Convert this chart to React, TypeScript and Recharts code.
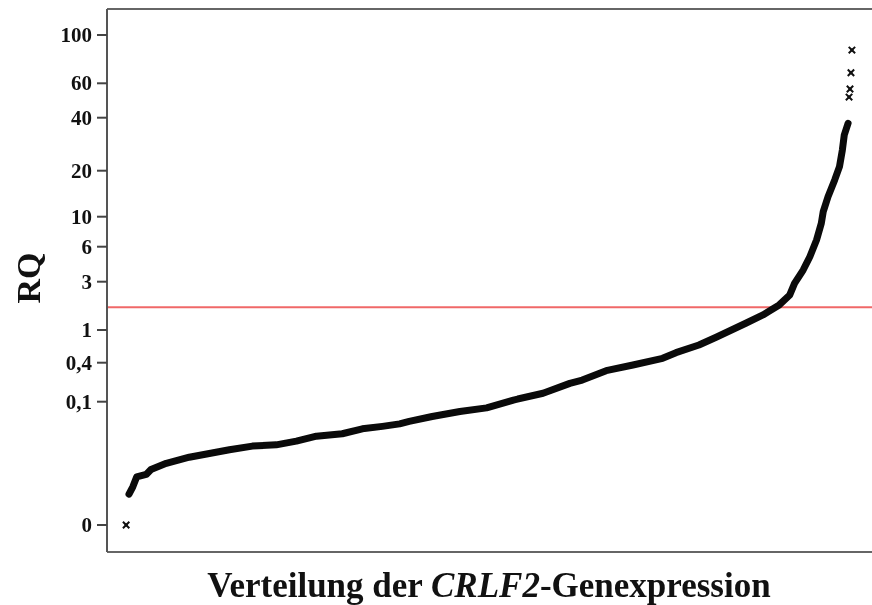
import React from 'react';
import { ScatterChart, Scatter, XAxis, YAxis, ReferenceLine } from 'recharts';

// Axis definition of the original (non-linear RQ axis): tick values and their axis positions
const AXIS_RQ = [0, 0.1, 0.4, 1, 3, 6, 10, 20, 40, 60, 100];
const AXIS_POS = [0, 123.3, 162.3, 195, 243.3, 278.3, 308.3, 354.3, 407.3, 441.7, 490];
const TICK_LABELS = ['0', '0,1', '0,4', '1', '3', '6', '10', '20', '40', '60', '100'];

// Samples (rank in the ordered distribution, RQ value)
const RANK = [20, 23, 27, 31, 41, 46, 62, 86, 107, 128, 152, 177, 198, 219, 246, 267, 288, 306, 316, 340, 369, 397, 425, 456, 484, 497, 522, 550, 581, 595, 619, 637, 668, 686, 703, 714, 719, 728, 735, 742, 747, 749, 754, 761, 766, 769, 771, 775, 776, 777, 778, 779];
const RQ = [0, 0.025, 0.031, 0.039, 0.041, 0.045, 0.05, 0.055, 0.058, 0.061, 0.064, 0.065, 0.068, 0.072, 0.074, 0.078, 0.08, 0.082, 0.084, 0.088, 0.092, 0.095, 0.106, 0.135, 0.192, 0.216, 0.301, 0.368, 0.452, 0.53, 0.657, 0.815, 1.165, 1.41, 1.77, 2.22, 2.89, 3.78, 4.92, 6.73, 8.94, 10.8, 13.5, 17.4, 21.1, 26.2, 31.9, 37.2, 51.0, 56.1, 67.1, 85.3];
const THRESHOLD = 1.68;

const DENSE_FROM = 1;
const DENSE_TO = 47;

function toAxis(v: number): number {
  if (v <= AXIS_RQ[1]) return (v / AXIS_RQ[1]) * AXIS_POS[1];
  for (let i = 1; i < AXIS_RQ.length - 1; i++) {
    if (v <= AXIS_RQ[i + 1]) {
      const f = Math.log10(v / AXIS_RQ[i]) / Math.log10(AXIS_RQ[i + 1] / AXIS_RQ[i]);
      return AXIS_POS[i] + f * (AXIS_POS[i + 1] - AXIS_POS[i]);
    }
  }
  const n = AXIS_RQ.length - 1;
  const f = Math.log10(v / AXIS_RQ[n]) / Math.log10(AXIS_RQ[n] / AXIS_RQ[n - 1]);
  return AXIS_POS[n] + f * (AXIS_POS[n] - AXIS_POS[n - 1]);
}

const allPoints = RANK.map((r, i) => ({ rank: r, rq: RQ[i], pos: toAxis(RQ[i]) }));
const densePoints = allPoints.slice(DENSE_FROM, DENSE_TO + 1);
const sparsePoints = [allPoints[0], ...allPoints.slice(DENSE_TO + 1)];

const FONT = '"Liberation Serif", "Times New Roman", serif';

const Marker = (props: any) => {
  const { cx, cy } = props;
  if (cx == null || cy == null) return null;
  const s = 3.2;
  const d = `M${cx - s},${cy - s}L${cx + s},${cy + s}M${cx - s},${cy + s}L${cx + s},${cy - s}`;
  return (
    <g>
      <path d={d} stroke="#111" strokeWidth={2} fill="none" />
      <rect x={cx - 1.5} y={cy - 1.5} width={3} height={3} fill="#111" />
    </g>
  );
};

const NoMarker = () => null;

const Tick = (props: any) => {
  const { y, payload } = props;
  const idx = AXIS_POS.indexOf(payload.value);
  const label = idx >= 0 ? TICK_LABELS[idx] : '';
  return (
    <text x={84} y={y + 7} textAnchor="end" fontFamily={FONT} fontWeight="bold" fontSize={21} fill="#111">
      {label}
    </text>
  );
};

export default function App() {
  return (
    <div style={{ position: 'fixed', left: 8, top: 8, width: 864, height: 597 }}>
      <ScatterChart width={864} height={597} margin={{ top: 1, right: 0, bottom: 53, left: 0 }}>
        <XAxis type="number" dataKey="rank" domain={[0, 800]} hide allowDataOverflow />
        <YAxis
          type="number"
          dataKey="pos"
          domain={[-27, 516]}
          ticks={AXIS_POS}
          interval={0}
          width={99}
          tickSize={10}
          allowDataOverflow
          axisLine={{ stroke: '#555', strokeWidth: 2 }}
          tickLine={{ stroke: '#444', strokeWidth: 2 }}
          tick={<Tick />}
        />
        <ReferenceLine y={516} stroke="#666" strokeWidth={2} />
        <ReferenceLine y={-27} stroke="#666" strokeWidth={2} />
        <ReferenceLine y={toAxis(THRESHOLD)} stroke="#f06868" strokeWidth={2} />
        <Scatter
          data={densePoints}
          line={{ stroke: '#0a0a0a', strokeWidth: 7, strokeLinejoin: 'round', strokeLinecap: 'round' } as any}
          shape={<NoMarker />}
          isAnimationActive={false}
        />
        <Scatter data={sparsePoints} shape={<Marker />} isAnimationActive={false} />
      </ScatterChart>
      <svg width={864} height={597} style={{ position: 'absolute', left: 0, top: 0, pointerEvents: 'none' }}>
        <text x={32} y={270} transform="rotate(-90 32 270)" textAnchor="middle" fontFamily={FONT} fontWeight="bold" fontSize={34} fill="#111">
          RQ
        </text>
        <text x={481} y={589} textAnchor="middle" fontFamily={FONT} fontWeight="bold" fontSize={35} fill="#111">
          Verteilung der <tspan fontStyle="italic">CRLF2</tspan>-Genexpression
        </text>
      </svg>
    </div>
  );
}
